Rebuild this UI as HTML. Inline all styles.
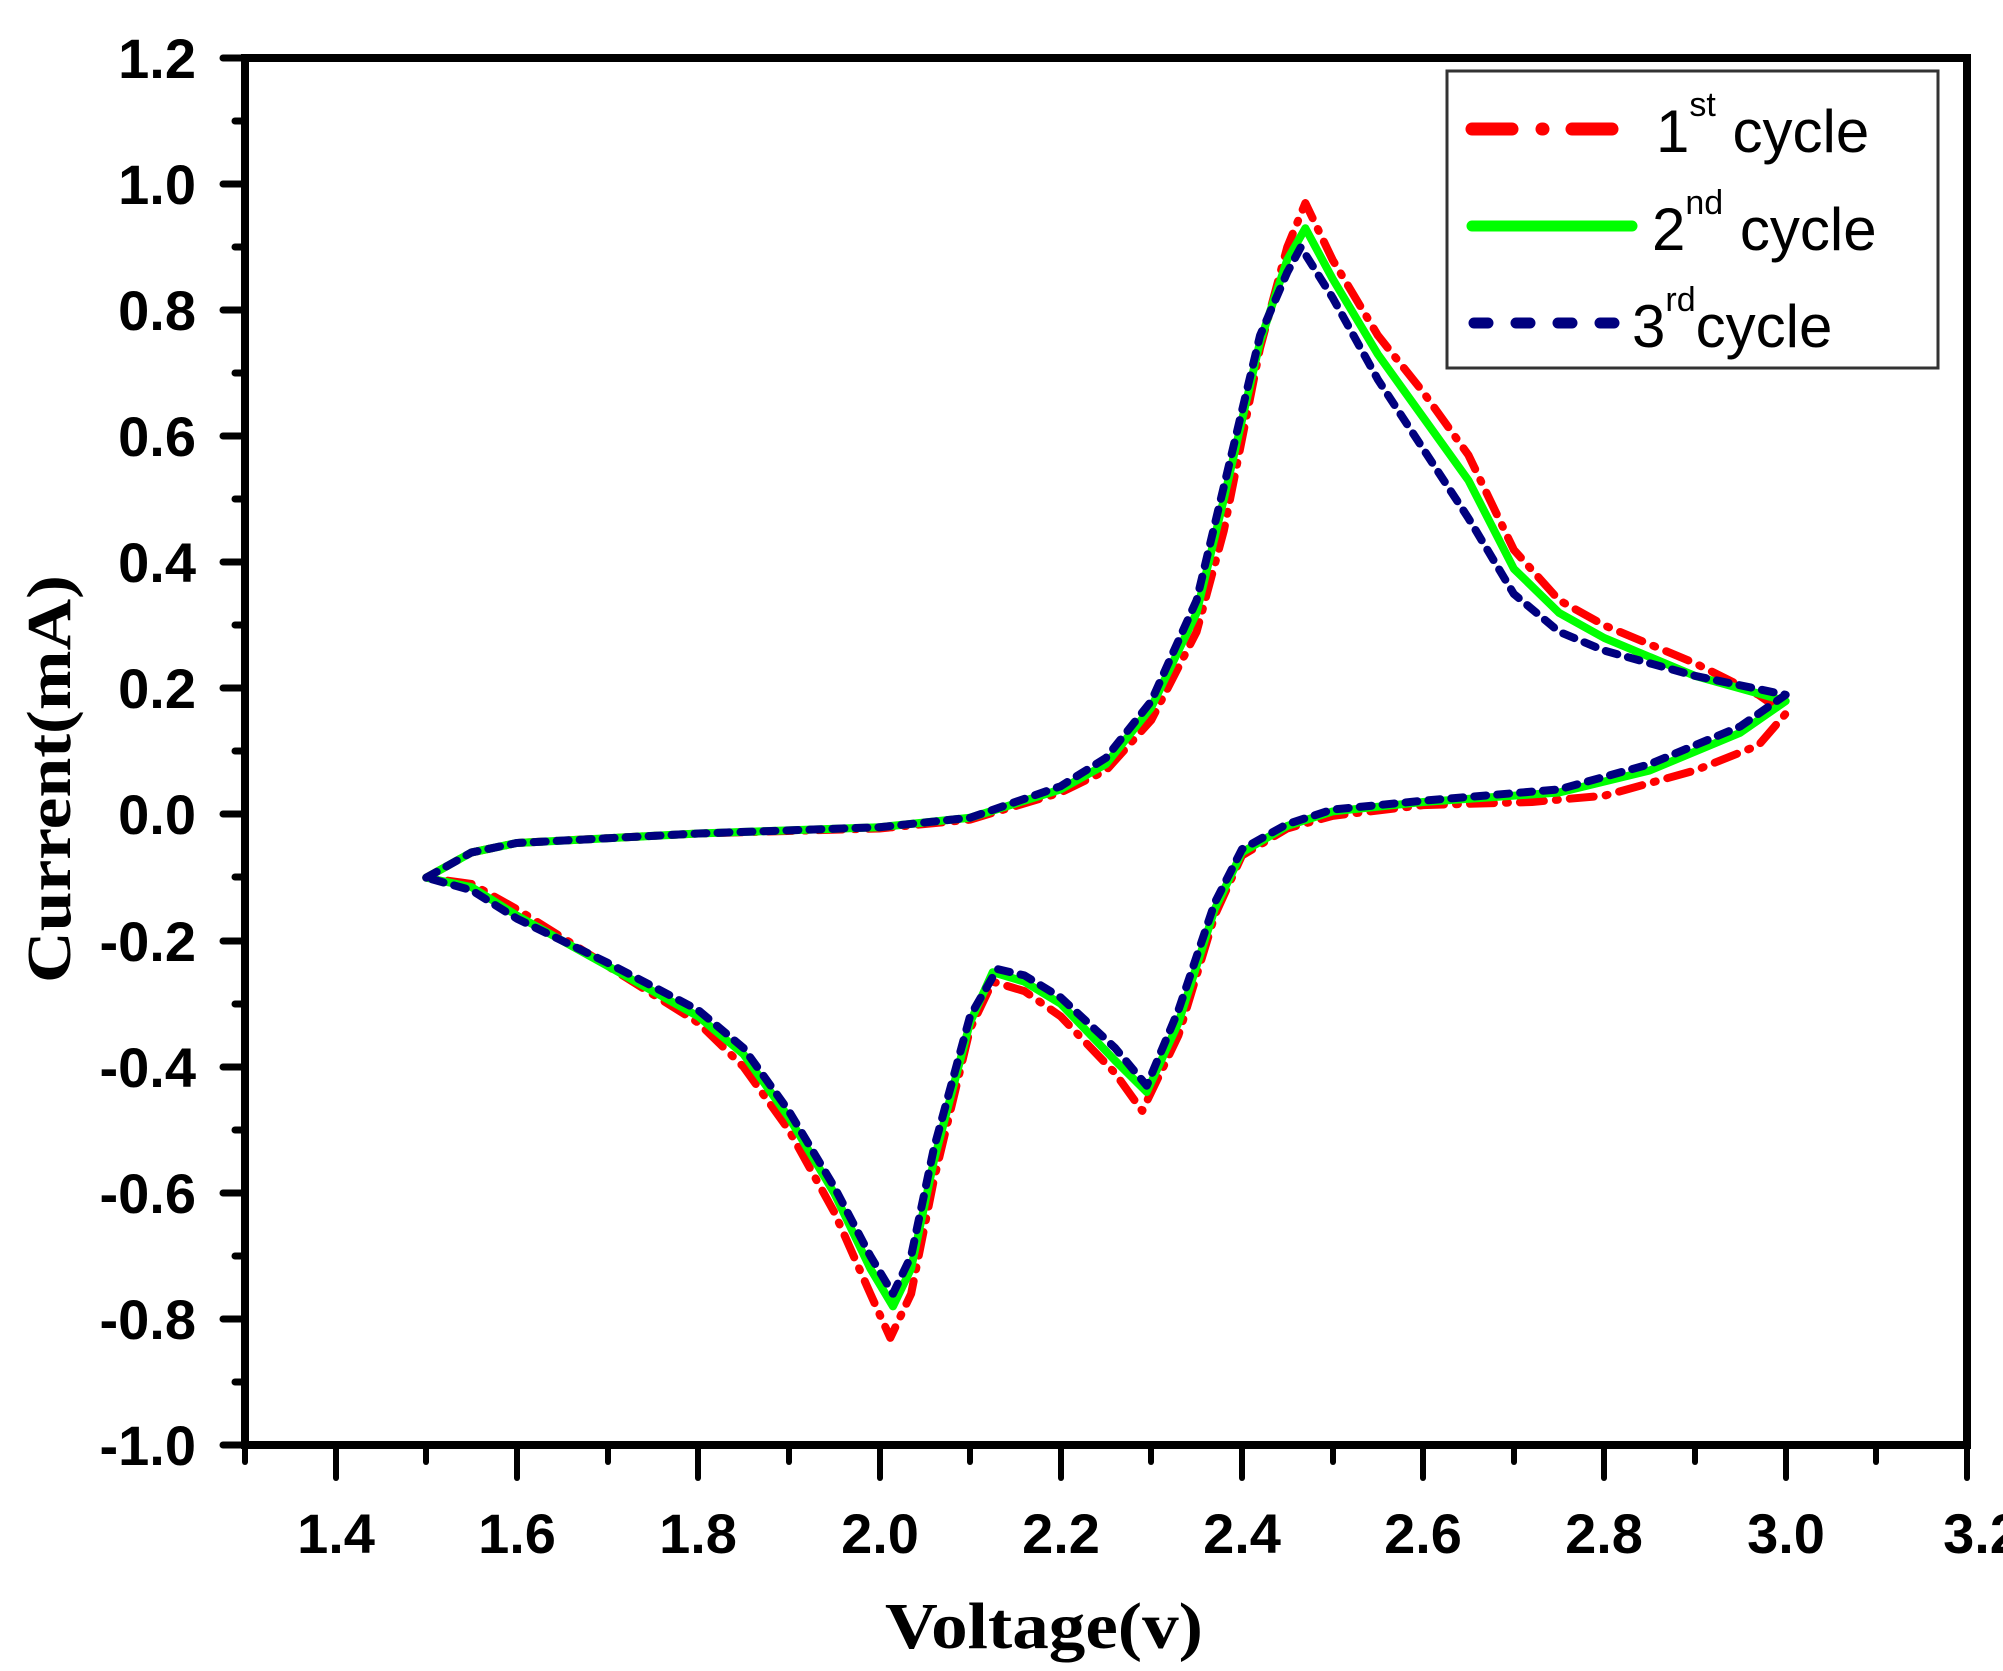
<!DOCTYPE html>
<html><head><meta charset="utf-8"><style>
html,body{margin:0;padding:0;background:#fff;}
svg{display:block;}
</style></head><body>
<svg width="2003" height="1671" viewBox="0 0 2003 1671" xmlns="http://www.w3.org/2000/svg">
<rect width="2003" height="1671" fill="#fff"/>
<g transform="matrix(906.3 0 0 -630.5 -933.2 814.6)" fill="none" stroke-linejoin="round" stroke-linecap="round">
<polyline vector-effect="non-scaling-stroke" stroke="#ff0000" stroke-width="8" stroke-dasharray="24 12 2 12"
points="1.5,-0.1 1.55,-0.06 1.6,-0.045 1.8,-0.03 2.0,-0.022 2.1,-0.008 2.2,0.035 2.25,0.07 2.3,0.15 2.35,0.29 2.38,0.45 2.42,0.74 2.45,0.9 2.47,0.97 2.5,0.88 2.55,0.76 2.6,0.67 2.65,0.57 2.7,0.42 2.75,0.34 2.8,0.3 2.9,0.24 2.97,0.19 3.0,0.16 2.97,0.11 2.9,0.07 2.8,0.03 2.72,0.02 2.6,0.015 2.5,-0.002 2.45,-0.022 2.4,-0.065 2.37,-0.16 2.33,-0.35 2.29,-0.47 2.26,-0.41 2.2,-0.32 2.16,-0.28 2.125,-0.265 2.1,-0.34 2.06,-0.58 2.035,-0.76 2.012,-0.83 1.99,-0.76 1.95,-0.63 1.9,-0.5 1.85,-0.4 1.8,-0.33 1.7,-0.24 1.6,-0.15 1.55,-0.11 1.5,-0.1"/>
<polyline vector-effect="non-scaling-stroke" stroke="#00ff00" stroke-width="8"
points="1.5,-0.1 1.55,-0.06 1.6,-0.045 1.8,-0.03 2.0,-0.02 2.1,-0.005 2.2,0.04 2.25,0.08 2.3,0.17 2.35,0.32 2.38,0.5 2.42,0.75 2.45,0.88 2.47,0.93 2.5,0.85 2.55,0.73 2.6,0.63 2.65,0.53 2.7,0.39 2.75,0.32 2.8,0.28 2.9,0.22 3.0,0.18 2.95,0.13 2.85,0.07 2.75,0.035 2.6,0.02 2.5,0.005 2.45,-0.018 2.4,-0.06 2.37,-0.15 2.33,-0.33 2.295,-0.44 2.26,-0.39 2.2,-0.3 2.16,-0.265 2.125,-0.25 2.1,-0.33 2.06,-0.55 2.035,-0.72 2.015,-0.78 1.99,-0.72 1.95,-0.6 1.9,-0.48 1.85,-0.38 1.8,-0.32 1.7,-0.24 1.6,-0.16 1.55,-0.115 1.5,-0.1"/>
<polyline vector-effect="non-scaling-stroke" stroke="#00007f" stroke-width="8" stroke-dasharray="12 11"
points="1.5,-0.1 1.55,-0.06 1.6,-0.045 1.8,-0.03 2.0,-0.02 2.1,-0.005 2.2,0.045 2.25,0.09 2.3,0.18 2.35,0.34 2.38,0.52 2.42,0.76 2.45,0.86 2.465,0.9 2.5,0.82 2.55,0.69 2.6,0.58 2.65,0.47 2.7,0.35 2.75,0.29 2.8,0.26 2.9,0.22 3.0,0.19 2.95,0.14 2.85,0.08 2.75,0.04 2.6,0.022 2.5,0.008 2.45,-0.015 2.4,-0.055 2.37,-0.14 2.33,-0.31 2.295,-0.43 2.26,-0.37 2.2,-0.29 2.16,-0.255 2.13,-0.245 2.1,-0.32 2.06,-0.53 2.035,-0.7 2.015,-0.76 1.99,-0.7 1.95,-0.59 1.9,-0.47 1.85,-0.37 1.8,-0.31 1.7,-0.235 1.6,-0.165 1.55,-0.12 1.5,-0.1"/>
</g>
<g stroke="#000" fill="none" stroke-linecap="round">
<rect x="245" y="58" width="1722" height="1387" stroke-width="8"/>
<g stroke-width="7">
<line x1="223" y1="58" x2="245" y2="58"/><line x1="223" y1="184" x2="245" y2="184"/><line x1="223" y1="310" x2="245" y2="310"/><line x1="223" y1="436" x2="245" y2="436"/><line x1="223" y1="562" x2="245" y2="562"/><line x1="223" y1="688" x2="245" y2="688"/><line x1="223" y1="814" x2="245" y2="814"/><line x1="223" y1="941" x2="245" y2="941"/><line x1="223" y1="1067" x2="245" y2="1067"/><line x1="223" y1="1193" x2="245" y2="1193"/><line x1="223" y1="1319" x2="245" y2="1319"/><line x1="223" y1="1445" x2="245" y2="1445"/>
<line x1="235" y1="121" x2="245" y2="121"/><line x1="235" y1="247" x2="245" y2="247"/><line x1="235" y1="373" x2="245" y2="373"/><line x1="235" y1="499" x2="245" y2="499"/><line x1="235" y1="625" x2="245" y2="625"/><line x1="235" y1="751" x2="245" y2="751"/><line x1="235" y1="877" x2="245" y2="877"/><line x1="235" y1="1004" x2="245" y2="1004"/><line x1="235" y1="1130" x2="245" y2="1130"/><line x1="235" y1="1256" x2="245" y2="1256"/><line x1="235" y1="1382" x2="245" y2="1382"/>
</g>
<g stroke-width="6">
<line x1="245" y1="1445" x2="245" y2="1462"/>
<line x1="336" y1="1445" x2="336" y2="1478"/><line x1="426" y1="1445" x2="426" y2="1462"/>
<line x1="517" y1="1445" x2="517" y2="1478"/><line x1="608" y1="1445" x2="608" y2="1462"/>
<line x1="698" y1="1445" x2="698" y2="1478"/><line x1="789" y1="1445" x2="789" y2="1462"/>
<line x1="880" y1="1445" x2="880" y2="1478"/><line x1="970" y1="1445" x2="970" y2="1462"/>
<line x1="1061" y1="1445" x2="1061" y2="1478"/><line x1="1151" y1="1445" x2="1151" y2="1462"/>
<line x1="1242" y1="1445" x2="1242" y2="1478"/><line x1="1333" y1="1445" x2="1333" y2="1462"/>
<line x1="1423" y1="1445" x2="1423" y2="1478"/><line x1="1514" y1="1445" x2="1514" y2="1462"/>
<line x1="1604" y1="1445" x2="1604" y2="1478"/><line x1="1695" y1="1445" x2="1695" y2="1462"/>
<line x1="1786" y1="1445" x2="1786" y2="1478"/><line x1="1876" y1="1445" x2="1876" y2="1462"/>
<line x1="1967" y1="1445" x2="1967" y2="1478"/>
</g>
</g>
<g font-family="Liberation Sans, sans-serif" font-weight="bold" font-size="56" text-anchor="end" fill="#000">
<text x="196" y="78">1.2</text><text x="196" y="204">1.0</text><text x="196" y="330">0.8</text><text x="196" y="456">0.6</text><text x="196" y="582">0.4</text><text x="196" y="708">0.2</text><text x="196" y="834">0.0</text><text x="196" y="961">-0.2</text><text x="196" y="1087">-0.4</text><text x="196" y="1213">-0.6</text><text x="196" y="1339">-0.8</text><text x="196" y="1465">-1.0</text>
</g>
<g font-family="Liberation Sans, sans-serif" font-weight="bold" font-size="56" text-anchor="middle" fill="#000">
<text x="336" y="1553">1.4</text><text x="517" y="1553">1.6</text><text x="698" y="1553">1.8</text><text x="880" y="1553">2.0</text><text x="1061" y="1553">2.2</text><text x="1242" y="1553">2.4</text><text x="1423" y="1553">2.6</text><text x="1604" y="1553">2.8</text><text x="1786" y="1553">3.0</text><text x="1982" y="1553">3.2</text>
</g>
<text x="885" y="1648" font-family="Liberation Serif, serif" font-weight="bold" font-size="66" textLength="318" lengthAdjust="spacingAndGlyphs">Voltage(v)</text>
<text transform="translate(70,983) rotate(-90)" font-family="Liberation Serif, serif" font-weight="bold" font-size="62" textLength="408" lengthAdjust="spacingAndGlyphs">Current(mA)</text>
<rect x="1447" y="71" width="491" height="297" fill="#fff" stroke="#333" stroke-width="3"/>
<g stroke-linecap="round" fill="none">
<line x1="1472" y1="129" x2="1512" y2="129" stroke="#f00" stroke-width="13"/>
<line x1="1542" y1="129" x2="1543" y2="129" stroke="#f00" stroke-width="13"/>
<line x1="1572" y1="129" x2="1612" y2="129" stroke="#f00" stroke-width="13"/>
<line x1="1472" y1="226" x2="1632" y2="226" stroke="#0f0" stroke-width="11"/>
<line x1="1474" y1="323" x2="1630" y2="323" stroke="#00007f" stroke-width="11" stroke-dasharray="14 28"/>
</g>
<g font-family="Liberation Sans, sans-serif" font-size="60" fill="#000">
<text x="1656" y="152">1<tspan font-size="34" dy="-36">st</tspan><tspan dy="36"> cycle</tspan></text>
<text x="1652" y="250">2<tspan font-size="34" dy="-36">nd</tspan><tspan dy="36"> cycle</tspan></text>
<text x="1632" y="347">3<tspan font-size="34" dy="-36">rd</tspan><tspan dy="36">cycle</tspan></text>
</g>
</svg>
</body></html>
